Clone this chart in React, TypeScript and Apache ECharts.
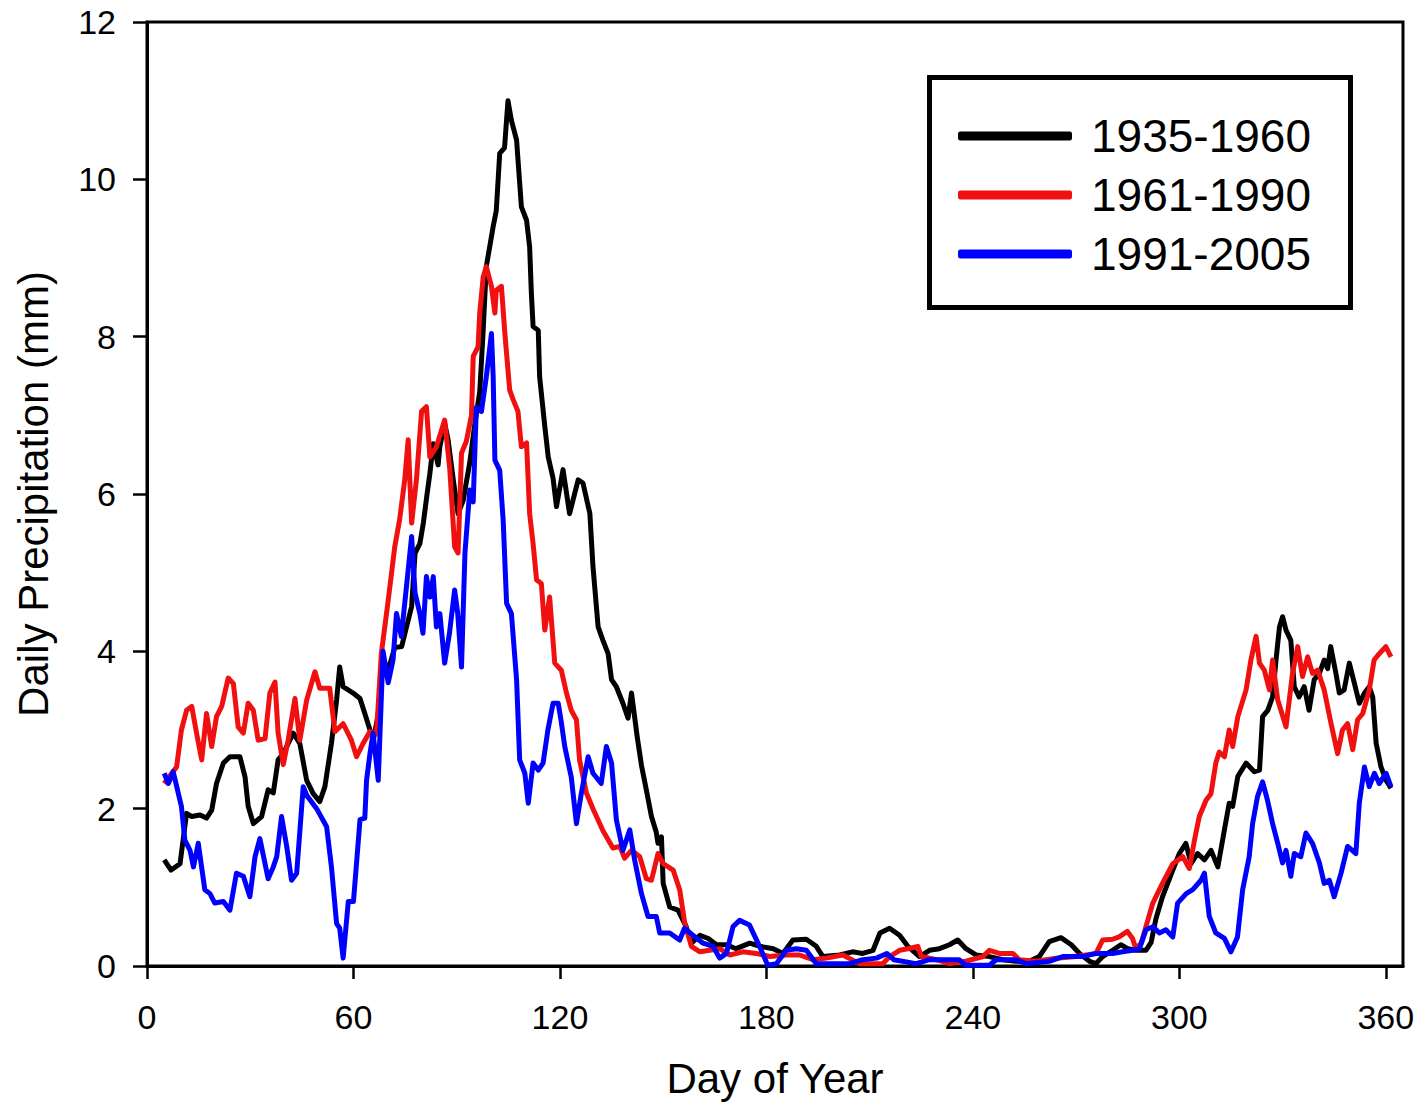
import React, { useEffect, useRef } from "react";
import * as echarts from "echarts";

// [day of year, daily precipitation (mm)]
const series1935_1960: [number, number][] = [
  [5,1.35],[7,1.22],[9.6,1.3],[11.5,1.94],[13,1.9],[15.4,1.92],[17.3,1.88],[18.8,1.98],[20.2,2.32],[22.2,2.58],
  [24.1,2.66],[27,2.66],[28.5,2.4],[29.4,2.03],[30.9,1.81],[33.3,1.9],[35.2,2.24],[36.7,2.2],[38.1,2.62],[39.6,2.7],
  [42.5,2.96],[44.4,2.83],[46.4,2.36],[48.3,2.19],[50.2,2.09],[51.7,2.28],[53.6,2.83],[55.1,3.38],[56,3.8],[57,3.55],
  [59.9,3.47],[61.9,3.4],[63.3,3.21],[64.8,3.0],[66,2.92],[67.2,3.2],[68.6,3.9],[70.1,3.76],[72,4.05],[74,4.06],
  [76.9,4.57],[77.9,5.25],[79.3,5.37],[80.3,5.63],[81.3,5.97],[82.2,6.26],[83.2,6.64],[84.6,6.37],[85.1,6.6],[86.5,6.9],
  [87.5,6.69],[89,6.18],[90.4,5.75],[91.9,5.92],[93.8,6.4],[95.3,6.9],[96.7,7.3],[97.6,8.0],[98.6,8.89],[100.6,9.4],
  [101.5,9.6],[102.5,10.33],[103.9,10.4],[104.9,11.0],[105.9,10.75],[107.4,10.5],[108.8,9.65],[110.3,9.48],[111.2,9.14],[111.7,8.55],
  [112.2,8.13],[113.7,8.08],[114.1,7.49],[115.6,6.86],[116.6,6.47],[118,6.2],[119,5.84],[120.9,6.31],[122.8,5.75],[125.3,6.18],
  [126.7,6.14],[128.7,5.75],[129.6,5.08],[131.1,4.31],[132.5,4.14],[134,3.97],[135,3.64],[136.4,3.55],[138.3,3.34],[139.8,3.15],
  [140.8,3.47],[142.5,2.9],[143.7,2.55],[145.1,2.24],[146.6,1.9],[148,1.7],[148.5,1.56],[149.5,1.64],[150,1.05],[151.9,0.75],
  [154.3,0.71],[156.7,0.5],[158.2,0.29],[160.7,0.39],[163.1,0.35],[165.5,0.27],[168.4,0.27],[171.2,0.22],[175.2,0.29],[178.1,0.25],
  [182,0.22],[184.8,0.16],[187.7,0.33],[191.6,0.34],[194.5,0.25],[196.4,0.12],[201.3,0.14],[205,0.18],[208,0.16],[211,0.2],
  [213,0.42],[215.8,0.48],[218.7,0.39],[221.1,0.25],[224.5,0.12],[227.4,0.2],[230.3,0.22],[233.2,0.27],[235.6,0.33],[238,0.22],
  [240.9,0.14],[244.8,0.12],[248.7,0.08],[252.6,0.06],[256.4,0.06],[259.3,0.12],[262.2,0.31],[265.6,0.36],[268.6,0.27],[271,0.16],
  [273.9,0.06],[275.8,0.03],[277.7,0.12],[280.6,0.2],[283,0.27],[285,0.22],[287.4,0.2],[290.3,0.2],[291.8,0.3],[293.2,0.6],
  [295.1,0.88],[298.1,1.22],[300,1.43],[301.9,1.56],[303.4,1.3],[305.3,1.43],[307.3,1.35],[309.2,1.47],[311.2,1.26],[313.1,1.73],
  [314.5,2.07],[315.5,2.03],[317,2.41],[319.4,2.58],[321.8,2.47],[323.3,2.49],[324.2,3.17],[325.7,3.25],[327.1,3.42],[328.1,3.89],
  [329.1,4.31],[330,4.44],[331,4.27],[332.4,4.14],[333.4,3.55],[334.8,3.42],[336.3,3.55],[337.7,3.25],[339.2,3.64],[340.7,3.72],
  [342.1,3.89],[343.1,3.78],[344,4.06],[345.5,3.72],[346.5,3.47],[347.9,3.51],[349.4,3.85],[350.9,3.59],[352.3,3.34],[353.8,3.47],
  [355.2,3.55],[356.2,3.42],[357.2,2.83],[358.6,2.53],[360.1,2.36],[361.5,2.26],
];

const series1961_1990: [number, number][] = [
  [5,2.32],[7.2,2.45],[8.6,2.53],[10,3.0],[11.5,3.25],[13,3.3],[14.4,2.96],[15.9,2.62],[17.3,3.21],[18.8,2.79],
  [20.2,3.17],[21.7,3.3],[23.6,3.66],[25.1,3.59],[26.5,3.04],[28,2.96],[29.4,3.34],[30.9,3.25],[32.3,2.87],[34.3,2.89],
  [35.7,3.47],[37.2,3.61],[38.1,2.96],[39.6,2.56],[41,2.87],[43,3.4],[44.4,2.87],[46.4,3.38],[48.8,3.74],[50.2,3.53],
  [53.1,3.53],[54.6,2.98],[57,3.08],[59.4,2.87],[60.9,2.66],[62.8,2.83],[64.8,2.98],[66.7,2.96],[68.1,3.97],[70.1,4.65],
  [72,5.33],[73.4,5.67],[74.9,6.18],[75.9,6.69],[76.9,5.63],[78.3,6.18],[79.8,7.05],[81.2,7.11],[82.2,6.47],[84.1,6.6],
  [86.5,6.94],[88,6.31],[89.4,5.33],[90.4,5.25],[91.4,6.52],[92.8,6.67],[94.3,7.0],[94.8,7.75],[96.2,7.87],[96.7,8.3],
  [97.7,8.76],[98.6,8.89],[100.1,8.64],[101.1,8.3],[101.5,8.59],[103,8.64],[104,8.04],[105.4,7.32],[106.4,7.2],[107.8,7.05],
  [108.8,6.6],[110.3,6.65],[111.2,5.75],[112.2,5.37],[113.2,4.91],[114.6,4.86],[115.6,4.27],[117,4.69],[118.5,3.85],[120.4,3.76],
  [121.9,3.47],[123.3,3.25],[124.8,3.13],[125.7,2.62],[127.7,2.2],[129.6,2.0],[132.5,1.72],[135.4,1.5],[137.4,1.52],[138.8,1.37],
  [140.8,1.47],[143.2,1.39],[145.1,1.11],[146.6,1.09],[148.5,1.43],[150,1.3],[152.9,1.22],[154.8,0.97],[156.3,0.54],[158.2,0.25],
  [160.7,0.18],[163.5,0.2],[166.4,0.22],[169.3,0.14],[173.2,0.18],[177,0.16],[181,0.12],[185.8,0.14],[189.6,0.14],[193.5,0.08],
  [197.4,0.1],[202.2,0.14],[207,0.03],[213.8,0.03],[215.8,0.12],[218.7,0.2],[221.1,0.22],[224,0.25],[225,0.12],[229.4,0.08],
  [233.2,0.03],[238,0.06],[242.9,0.12],[244.8,0.2],[247.7,0.16],[251.6,0.16],[253.5,0.08],[258.4,0.06],[264.2,0.1],[270,0.12],
  [275.8,0.16],[277.7,0.33],[280.6,0.34],[282.5,0.37],[284.9,0.44],[286.4,0.35],[287.4,0.22],[288.9,0.29],[290.3,0.5],[292.3,0.8],
  [295.1,1.05],[298.1,1.3],[301,1.39],[302.9,1.24],[304.4,1.6],[305.8,1.9],[307.8,2.11],[309.2,2.19],[310.6,2.58],[311.6,2.72],
  [313.1,2.66],[314.5,3.0],[315.5,2.79],[317,3.17],[319.4,3.51],[320.8,3.89],[322.3,4.19],[323.3,3.85],[324.7,3.76],[326.2,3.51],
  [327.1,3.89],[328.6,3.38],[331,3.04],[332.9,3.72],[334.4,4.06],[335.8,3.68],[337.3,3.93],[338.7,3.72],[340.2,3.76],[342.1,3.51],
  [344.1,3.08],[346,2.7],[347.4,3.0],[348.9,3.08],[350.4,2.75],[351.8,3.13],[353.3,3.21],[355.2,3.51],[356.6,3.89],[358.1,3.97],
  [360,4.06],[361.5,3.93],
];

const series1991_2005: [number, number][] = [
  [5,2.45],[6.2,2.32],[7.6,2.47],[10,2.03],[11,1.6],[12.5,1.47],[13.5,1.26],[14.9,1.56],[16.8,0.97],[18.3,0.92],
  [19.7,0.8],[22.2,0.82],[24.1,0.71],[26,1.18],[28,1.14],[29.9,0.88],[31.4,1.39],[32.8,1.62],[35.2,1.11],[36.7,1.26],
  [37.7,1.39],[39.1,1.9],[40.6,1.52],[42,1.09],[43.5,1.18],[45.4,2.28],[46.4,2.17],[49.3,2.0],[52.2,1.77],[53.6,1.26],
  [55.1,0.54],[56,0.48],[57,0.1],[58.5,0.82],[60,0.82],[61.9,1.86],[63.3,1.88],[63.8,2.36],[64.8,2.7],[65.7,2.96],
  [67.2,2.36],[68.6,4.0],[70.1,3.6],[71.5,3.89],[72.5,4.48],[73.9,4.19],[75.4,4.82],[76.9,5.46],[77.9,4.74],[79.3,4.48],
  [80.2,4.23],[81.2,4.95],[82.2,4.69],[83.2,4.95],[84.1,4.31],[85.1,4.48],[86.5,3.85],[87.9,4.23],[89.4,4.78],[90.3,4.48],
  [91.4,3.8],[92.4,5.25],[93.8,6.05],[94.8,5.9],[95.7,7.1],[97.2,7.05],[98.6,7.49],[100.1,8.04],[100.6,7.49],[101.1,6.43],
  [102.5,6.3],[103.5,5.67],[104.5,4.61],[105.9,4.48],[107.4,3.64],[108.3,2.62],[109.8,2.45],[110.8,2.07],[112.2,2.58],[113.7,2.49],
  [115.1,2.58],[116.5,3.0],[118,3.34],[119.5,3.34],[120.4,3.1],[121.4,2.79],[123.3,2.4],[124.8,1.81],[126.2,2.19],[128.2,2.66],
  [129.6,2.45],[132,2.32],[133.5,2.79],[135,2.58],[136.4,1.86],[138.3,1.47],[140.3,1.73],[141.7,1.35],[143.7,0.92],[145.6,0.63],
  [148,0.63],[149,0.42],[151.9,0.42],[154.8,0.33],[156.2,0.48],[158.7,0.39],[161.6,0.29],[164.5,0.25],[166.4,0.1],[168.4,0.16],
  [170.3,0.5],[172.2,0.58],[175.1,0.52],[178,0.25],[180.4,0.01],[182.9,0.03],[185.8,0.2],[188.7,0.22],[191.6,0.2],[194.5,0.03],
  [199.3,0.03],[204.2,0.03],[208,0.08],[212,0.1],[215,0.16],[217,0.08],[223.5,0.03],[227.4,0.08],[236,0.08],[238,0.01],
  [244.8,0.01],[246.8,0.08],[252.6,0.08],[255.5,0.03],[262.2,0.06],[266.1,0.12],[271.9,0.12],[275.8,0.16],[280.6,0.16],[283.5,0.18],
  [286.4,0.2],[288.4,0.22],[290.3,0.46],[292.3,0.5],[294.2,0.42],[296.1,0.46],[298.1,0.37],[299.5,0.8],[302,0.92],[303.9,0.97],
  [306.3,1.09],[307.3,1.18],[308.7,0.63],[310.6,0.42],[313.1,0.35],[315,0.18],[316.9,0.37],[318.4,0.97],[320.3,1.39],[321.3,1.81],
  [322.7,2.15],[324.2,2.34],[325.6,2.11],[327.1,1.81],[328.6,1.56],[330,1.31],[331,1.47],[332.4,1.14],[333.4,1.43],[335.3,1.39],
  [336.8,1.69],[338.7,1.56],[340.7,1.31],[342.1,1.05],[343.6,1.09],[345,0.88],[347,1.18],[348.9,1.52],[351.3,1.43],[352.3,2.07],
  [353.8,2.53],[355.2,2.28],[356.7,2.45],[358.1,2.32],[360.1,2.45],[361.5,2.28],
];

const seriesNames = ["1935-1960", "1961-1990", "1991-2005"];
const seriesColors = ["#000000", "#f01010", "#0000ff"];
const xTicks = [0, 60, 120, 180, 240, 300, 360];
const yTicks = [0, 2, 4, 6, 8, 10, 12];

const FONT = "'Liberation Sans', Arial, Helvetica, sans-serif";

export default function App() {
  const ref = useRef<HTMLDivElement | null>(null);

  useEffect(() => {
    if (!ref.current) return;
    const chart = echarts.init(ref.current, undefined, { renderer: "svg" });
    const allData = [series1935_1960, series1961_1990, series1991_2005];

    chart.setOption({
      animation: false,
      backgroundColor: "#ffffff",
      textStyle: { fontFamily: FONT },
      grid: {
        left: 147,
        top: 22,
        right: 17,
        bottom: 138,
        outerBoundsMode: "none",
        containLabel: false,
        show: true,
        borderColor: "#000",
        borderWidth: 3,
        backgroundColor: "transparent",
      },
      xAxis: {
        type: "value",
        min: 0,
        max: 365,
        interval: 60,
        name: "Day of Year",
        nameLocation: "middle",
        nameGap: 92,
        nameTextStyle: { fontSize: 42, lineHeight: 40, color: "#000", fontFamily: FONT },
        axisLine: { show: true, onZero: false, lineStyle: { color: "#000", width: 3 } },
        axisTick: {
          show: true,
          inside: false,
          length: 13,
          lineStyle: { color: "#000", width: 2.5 },
          customValues: xTicks,
        },
        axisLabel: {
          fontSize: 34,
          color: "#000",
          margin: 34,
          fontFamily: FONT,
          customValues: xTicks,
        },
        splitLine: { show: false },
      },
      yAxis: {
        type: "value",
        min: 0,
        max: 12,
        interval: 2,
        name: "Daily Precipitation (mm)",
        nameLocation: "middle",
        nameGap: 93,
        nameTextStyle: { fontSize: 42, color: "#000", fontFamily: FONT },
        axisLine: { show: true, lineStyle: { color: "#000", width: 3 } },
        axisTick: {
          show: true,
          inside: false,
          length: 14,
          lineStyle: { color: "#000", width: 2.5 },
          customValues: yTicks,
        },
        axisLabel: {
          fontSize: 34,
          color: "#000",
          margin: 31,
          fontFamily: FONT,
          customValues: yTicks,
        },
        splitLine: { show: false },
      },
      legend: {
        orient: "vertical",
        left: 958,
        top: 113,
        padding: 0,
        itemWidth: 114,
        itemHeight: 9,
        itemGap: 13,
        icon: "roundRect",
        selectedMode: false,
        data: seriesNames,
        textStyle: {
          fontSize: 46,
          lineHeight: 44,
          color: "#000",
          fontFamily: FONT,
          padding: [0, 0, 0, 14],
        },
      },
      graphic: [
        {
          type: "rect",
          left: 927,
          top: 75,
          shape: { width: 421, height: 230 },
          style: { fill: "none", stroke: "#000", lineWidth: 5 },
          z: 100,
        },
      ],
      series: allData.map((d, i) => ({
        name: seriesNames[i],
        type: "line",
        data: d,
        showSymbol: false,
        symbol: "none",
        lineStyle: { color: seriesColors[i], width: 5, join: "round" },
        itemStyle: { color: seriesColors[i] },
        z: 2 + i,
      })),
    });

    return () => {
      chart.dispose();
    };
  }, []);

  return (
    <div
      ref={ref}
      style={{ position: "absolute", left: 0, top: 0, width: 1420, height: 1104, background: "#fff" }}
    />
  );
}
